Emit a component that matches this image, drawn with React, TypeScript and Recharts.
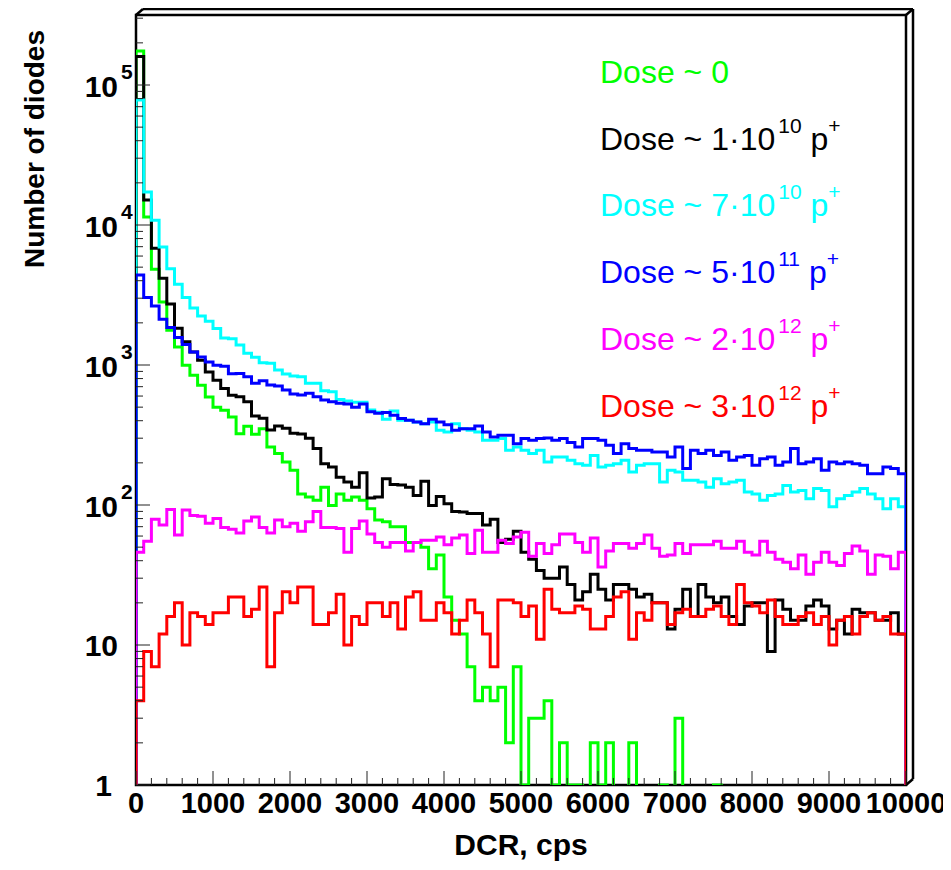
import { LineChart, Line, XAxis, YAxis } from "recharts";

// DCR histograms, 100 bins of 100 cps each (0..10000 cps)
const binWidth = 100;

const dose0 = [
  175000, 11400, 4820, 2820, 1770, 1344, 995, 844, 716, 591,
  500, 475, 425, 323, 365, 320, 350, 260, 233, 203,
  177, 120, 114, 108, 134, 99, 120, 108, 114, 108,
  94, 78, 76, 70, 70, 54, 54, 50, 35, 44,
  22, 15, 12, 7, 4, 5, 4, 5, 2, 7,
  1, 3, 3, 4, 1, 2, 1, 1, 0, 2,
  1, 2, 0, 0, 2, 0, 0, 0, 1, 0,
  3, 0, 0, 0, 0, 1, 0, 0, 0, 0,
  0, 0, 0, 0, 0, 0, 0, 0, 0, 0,
  0, 0, 0, 0, 0, 0, 0, 0, 0, 0,
];

const dose1e10 = [
  160000, 15100, 6810, 4160, 2730, 1830, 1468, 1240, 1080, 891,
  777, 680, 607, 594, 547, 432, 416, 343, 367, 353,
  325, 321, 300, 253, 197, 187, 158, 146, 134, 170,
  112, 114, 154, 140, 139, 134, 117, 148, 99, 115,
  102, 90, 89, 87, 87, 72, 79, 54, 57, 65,
  46, 41, 34, 30, 30, 36, 27, 21, 24, 32,
  25, 21, 27, 27, 25, 22, 23, 20, 20, 13,
  18, 25, 16, 27, 22, 20, 22, 16, 14, 19,
  20, 20, 9, 21, 18, 15, 15, 19, 21, 19,
  13, 15, 12, 18, 17, 17, 15, 15, 17, 12,
];

const dose7e10 = [
  78000, 17200, 10800, 6960, 4870, 3770, 3030, 2550, 2240, 2050,
  1820, 1560, 1540, 1390, 1212, 1135, 1039, 1029, 921, 863,
  835, 825, 740, 740, 656, 645, 568, 553, 542, 542,
  477, 460, 410, 470, 403, 403, 392, 381, 392, 342,
  332, 381, 351, 342, 332, 290, 290, 298, 246, 260,
  246, 233, 246, 203, 220, 220, 209, 197, 192, 226,
  187, 192, 197, 209, 172, 192, 197, 197, 146, 177,
  172, 150, 150, 146, 134, 154, 142, 146, 150, 124,
  120, 108, 117, 120, 138, 124, 127, 111, 131, 127,
  97, 111, 117, 124, 131, 120, 111, 94, 111, 97,
];

const dose5e11 = [
  4400, 3030, 2640, 2120, 1850, 1570, 1400, 1240, 1141, 1050,
  995, 980, 867, 870, 825, 740, 773, 720, 708, 663,
  621, 611, 628, 594, 562, 547, 532, 526, 499, 526,
  464, 452, 457, 437, 414, 403, 392, 381, 410, 392,
  375, 342, 351, 351, 367, 332, 306, 315, 315, 274,
  298, 290, 298, 301, 290, 298, 279, 260, 298, 298,
  290, 267, 233, 274, 253, 246, 246, 239, 239, 220,
  260, 182, 246, 233, 246, 226, 239, 209, 220, 226,
  192, 214, 220, 192, 203, 253, 197, 203, 214, 177,
  203, 197, 203, 197, 192, 167, 167, 187, 182, 167,
];

const dose2e12 = [
  46, 55, 79, 72, 93, 61, 92, 84, 83, 74,
  80, 69, 67, 63, 77, 82, 69, 63, 78, 70,
  74, 65, 76, 90, 69, 69, 68, 46, 68, 77,
  62, 54, 50, 54, 54, 47, 54, 56, 56, 59,
  52, 58, 61, 45, 66, 46, 46, 56, 53, 59,
  64, 43, 53, 45, 52, 62, 62, 54, 46, 58,
  36, 47, 53, 53, 49, 53, 61, 49, 43, 44,
  53, 45, 52, 52, 52, 55, 49, 49, 55, 46,
  44, 55, 46, 41, 39, 35, 44, 32, 39, 46,
  39, 37, 45, 51, 47, 32, 44, 43, 35, 46,
];

const dose3e12 = [
  4, 9, 7, 12, 16, 20, 10, 17, 16, 14,
  17, 17, 22, 22, 16, 18, 26, 7, 17, 24,
  20, 26, 26, 14, 14, 17, 23, 10, 16, 14,
  20, 20, 16, 20, 13, 22, 24, 15, 15, 20,
  17, 12, 15, 21, 17, 12, 7, 21, 21, 20,
  16, 19, 11, 25, 18, 17, 17, 19, 18, 13,
  13, 16, 22, 24, 11, 17, 15, 20, 20, 14,
  17, 18, 16, 16, 18, 19, 16, 14, 27, 20,
  19, 17, 21, 16, 14, 14, 16, 17, 14, 16,
  10, 15, 16, 12, 16, 17, 15, 16, 12, 12,
];

const series = [
  { key: "d0", color: "#00ff00", values: dose0 },
  { key: "d1", color: "#000000", values: dose1e10 },
  { key: "d2", color: "#00ffff", values: dose7e10 },
  { key: "d3", color: "#0000ff", values: dose5e11 },
  { key: "d4", color: "#ff00ff", values: dose2e12 },
  { key: "d5", color: "#ff0000", values: dose3e12 },
];

// legend lines: [text, exponent] ; null exponent -> plain
const legendItems: { color: string; mant: string; exp: string | null }[] = [
  { color: "#00ff00", mant: "0", exp: null },
  { color: "#000000", mant: "1", exp: "10" },
  { color: "#00ffff", mant: "7", exp: "10" },
  { color: "#0000ff", mant: "5", exp: "11" },
  { color: "#ff00ff", mant: "2", exp: "12" },
  { color: "#ff0000", mant: "3", exp: "12" },
];

const xMax = 10000;
const yMin = 1;
const yMax = 10 ** 5.5;

// ROOT pushes empty bins below the frame; same trick here, clipped by the axis
const belowFrame = 0.5;
const floor = (v: number) => (v > 0 ? v : belowFrame);

const buildRow = (x: number, pick: (vals: number[]) => number) => {
  const row: Record<string, number> = { x };
  series.forEach((s) => (row[s.key] = pick(s.values)));
  return row;
};

const chartData = [
  buildRow(0, () => belowFrame),
  ...dose0.map((_, i) => buildRow(i * binWidth, (vals) => floor(vals[i]))),
  buildRow(xMax, () => belowFrame),
];

const xTicks = Array.from({ length: 51 }, (_, i) => i * 200);
const yTicks: number[] = [];
for (let e = 0; e <= 5; e++) {
  for (let k = 1; k <= 9; k++) {
    const v = k * 10 ** e;
    if (v <= yMax) yTicks.push(v);
  }
}

const font = "'Liberation Sans', Arial, Helvetica, sans-serif";

const W = 943;
const H = 862;
const margin = { top: 7, right: 45, bottom: 55, left: 68 };
const yAxisWidth = 60;
const xAxisHeight = 30;
const plotLeft = margin.left + yAxisWidth;
const plotRight = W - margin.right;
const plotTop = margin.top;
const plotBottom = H - margin.bottom - xAxisHeight;
const depth = { dx: 7, dy: -6 }; // ROOT frame "3D" border

function YTick({ x, y, payload }: any) {
  const v = payload.value as number;
  const e = Math.round(Math.log10(v));
  const major = Math.abs(v - 10 ** e) < 1e-6 * v;
  let label = null;
  if (major) {
    if (e === 0) {
      label = (
        <text x={x - 24} y={y + 11} textAnchor="end" fontSize={30} fontWeight="bold" fontFamily={font} fill="#000">
          1
        </text>
      );
    } else if (e === 1) {
      label = (
        <text x={x - 18} y={y + 11} textAnchor="end" fontSize={30} fontWeight="bold" fontFamily={font} fill="#000">
          10
        </text>
      );
    } else {
      label = (
        <g fontFamily={font} fontWeight="bold" fill="#000">
          <text x={x - 18} y={y + 12} textAnchor="end" fontSize={30}>
            10
          </text>
          <text x={x - 15} y={y - 6} textAnchor="start" fontSize={21}>
            {e}
          </text>
        </g>
      );
    }
  }
  return (
    <g>
      <line x1={x} x2={x + (major ? 14 : 7)} y1={y} y2={y} stroke="#222" strokeWidth={1} />
      {label}
    </g>
  );
}

function XTick({ x, y, payload }: any) {
  const v = payload.value as number;
  const major = v % 1000 === 0;
  return (
    <g>
      <line x1={x} x2={x} y1={y} y2={y - (major ? 14 : 7)} stroke="#222" strokeWidth={1} />
      {major && (
        <text x={x} y={y + 28} textAnchor="middle" fontSize={29} fontWeight="bold" fontFamily={font} fill="#000">
          {v}
        </text>
      )}
    </g>
  );
}

function Frame() {
  const { dx, dy } = depth;
  const legendX = 592;
  const legendY0 = 75;
  const legendStep = 66.7;
  return (
    <svg width={W} height={H} style={{ position: "absolute", left: 0, top: 0 }}>
      <g stroke="#000" strokeWidth={2.5} fill="none">
        <rect x={plotLeft} y={plotTop} width={plotRight - plotLeft} height={plotBottom - plotTop} />
        <line x1={plotLeft} y1={plotTop} x2={plotLeft + dx} y2={plotTop + dy} />
        <line x1={plotLeft + dx} y1={plotTop + dy} x2={plotRight + dx} y2={plotTop + dy} />
        <line x1={plotRight} y1={plotTop} x2={plotRight + dx} y2={plotTop + dy} />
        <line x1={plotRight + dx} y1={plotTop + dy} x2={plotRight + dx} y2={plotBottom + dy} />
        <line x1={plotRight} y1={plotBottom} x2={plotRight + dx} y2={plotBottom + dy} />
      </g>
      <text
        transform={`translate(36, 22) rotate(-90)`}
        textAnchor="end"
        fontSize={28}
        fontWeight="bold"
        fontFamily={font}
        fill="#000"
      >
        Number of diodes
      </text>
      <text
        x={(plotLeft + plotRight) / 2}
        y={847}
        textAnchor="middle"
        fontSize={30}
        fontWeight="bold"
        fontFamily={font}
        fill="#000"
      >
        DCR, cps
      </text>
      {legendItems.map((it, i) => (
        <text key={i} x={legendX} y={legendY0 + i * legendStep} fontSize={32} fontFamily={font} fill={it.color}>
          {it.exp === null ? (
            `Dose ~ ${it.mant}`
          ) : (
            <>
              {`Dose ~ ${it.mant}\u00b710`}
              <tspan dx={3} dy={-17} fontSize={21}>
                {it.exp}
              </tspan>
              <tspan dy={17} fontSize={32}>
                {" p"}
              </tspan>
              <tspan dy={-17} fontSize={21}>
                +
              </tspan>
            </>
          )}
        </text>
      ))}
    </svg>
  );
}

export default function App() {
  return (
    <div style={{ position: "relative", width: W, height: H }}>
      <Frame />
      <LineChart width={W} height={H} data={chartData} margin={margin}>
        <XAxis
          dataKey="x"
          type="number"
          domain={[0, xMax]}
          ticks={xTicks}
          interval={0}
          height={xAxisHeight}
          axisLine={false}
          tickLine={false}
          tickSize={0}
          tickMargin={0}
          tick={<XTick />}
          allowDataOverflow
        />
        <YAxis
          type="number"
          scale="log"
          domain={[yMin, yMax]}
          ticks={yTicks}
          interval={0}
          width={yAxisWidth}
          axisLine={false}
          tickLine={false}
          tickSize={0}
          tickMargin={0}
          tick={<YTick />}
          allowDataOverflow
        />
        {series.map((s) => (
          <Line
            key={s.key}
            dataKey={s.key}
            type="stepAfter"
            stroke={s.color}
            strokeWidth={3}
            dot={false}
            isAnimationActive={false}
          />
        ))}
      </LineChart>
    </div>
  );
}
